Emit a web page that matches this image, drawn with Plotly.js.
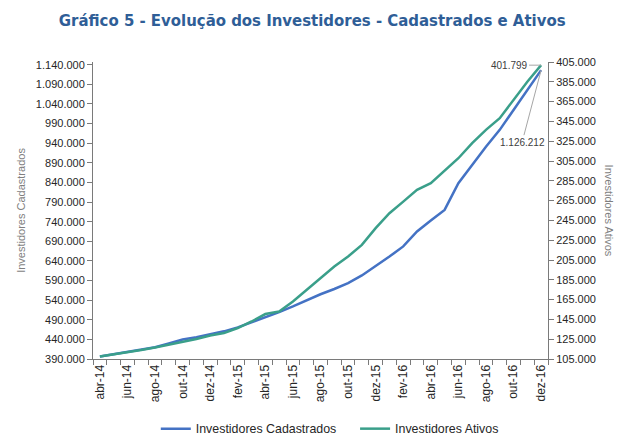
<!DOCTYPE html>
<html>
<head>
<meta charset="utf-8">
<script src="https://cdn.plot.ly/plotly-3.0.1.min.js"></script>
<style>html,body{margin:0;padding:0;background:#fff;}#chart{width:617px;height:437px;}</style>
</head>
<body>
<div id="chart"></div>
<script>
var months = ["abr-14","mai-14","jun-14","jul-14","ago-14","set-14","out-14","nov-14","dez-14",
  "jan-15","fev-15","mar-15","abr-15","mai-15","jun-15","jul-15","ago-15","set-15","out-15","nov-15","dez-15",
  "jan-16","fev-16","mar-16","abr-16","mai-16","jun-16","jul-16","ago-16","set-16","out-16","nov-16","dez-16"];

var cadastrados = [396600,402000,408000,413500,420000,429500,439500,445500,452500,
  460500,470500,483000,496000,509500,524000,540000,555000,568500,583500,603000,626000,
  651000,677000,715000,743000,770000,838000,885000,931000,974000,1025000,1076000,1126212];

var ativos = [107600,109600,111700,114100,116700,119400,122200,125200,128800,
  131200,136300,142900,150400,153000,163100,174900,185800,198400,208500,220300,237200,
  252300,264000,275800,282600,295300,307800,323000,336400,348200,366700,385100,401799];

var seriesNames = ["Investidores Cadastrados", "Investidores Ativos"];
var titleText = "Gráfico 5 - Evolução dos Investidores - Cadastrados e Ativos";

var xIdx = months.map(function(m, i){ return i; });
var labelIdx = xIdx.filter(function(i){ return i % 2 === 0; });
var labelText = labelIdx.map(function(i){ return months[i]; });

function fmt(v){ return String(Math.round(v)).replace(/\B(?=(\d{3})+(?!\d))/g, "."); }

var blue = "#4472C4", green = "#3A9F8A", axisCol = "#7a7a7a", txt = "#262626";
var last = months.length - 1;

var traces = [
  {x: xIdx, y: cadastrados, name: seriesNames[0], type: "scatter", mode: "lines",
   line: {color: blue, width: 2.5}, yaxis: "y", legend: "legend"},
  {x: xIdx, y: ativos, name: seriesNames[1], type: "scatter", mode: "lines",
   line: {color: green, width: 2.5}, yaxis: "y2", legend: "legend2"}
];

var legendBase = {orientation: "h", xanchor: "left", y: -0.236, yanchor: "middle",
                  font: {size: 12.4, color: txt}, bgcolor: "rgba(0,0,0,0)"};

var layout = {
  width: 617, height: 437,
  margin: {l: 93, r: 69, t: 62, b: 78, autoexpand: false},
  paper_bgcolor: "#fff", plot_bgcolor: "#fff",
  separators: ",.",
  font: {family: "Liberation Sans, Arial, sans-serif", size: 11, color: txt},
  title: {text: "<b>" + titleText + "</b>", font: {family: "DejaVu Sans Condensed, DejaVu Sans, sans-serif", size: 16.6, color: "#2F5E97"},
          x: 0.506, xref: "container", xanchor: "center", y: 0.954, yref: "container", yanchor: "middle"},
  showlegend: true,
  legend: Object.assign({}, legendBase, {x: 0.138}),
  legend2: Object.assign({}, legendBase, {x: 0.576}),
  xaxis: {range: [-0.5, last + 0.5], tickmode: "array", tickvals: labelIdx, ticktext: labelText,
          tickangle: -90, ticks: "", showgrid: false, zeroline: false, showline: true, automargin: false,
          linecolor: axisCol, linewidth: 1, tickfont: {size: 12, color: txt},
          minor: {tickmode: "linear", tick0: -0.5, dtick: 1, ticks: "outside", ticklen: 5, tickcolor: axisCol, showgrid: false}},
  yaxis: {range: [390000, 1147000], tickmode: "linear", tick0: 390000, dtick: 50000, tickformat: ",d",
          ticks: "outside", ticklen: 5, tickcolor: axisCol, showgrid: false, zeroline: false, automargin: false,
          showline: true, linecolor: axisCol, linewidth: 1, tickfont: {size: 11, color: txt},
          title: {text: seriesNames[0], font: {size: 11, color: "#7f7f7f"}, standoff: 8}},
  yaxis2: {range: [105000, 405000], tickmode: "linear", tick0: 105000, dtick: 20000, tickformat: ",d",
           overlaying: "y", side: "right", ticks: "outside", ticklen: 5, tickcolor: axisCol, showgrid: false,
           zeroline: false, showline: true, automargin: false, linecolor: axisCol, linewidth: 1, tickfont: {size: 11, color: txt}},
  annotations: [
    {x: last, y: ativos[last], xref: "x", yref: "y2", text: fmt(ativos[last]),
     showarrow: true, arrowhead: 0, arrowwidth: 1, arrowcolor: "#a6a6a6", ax: -32, ay: 0,
     font: {size: 10, color: "#404040"}, standoff: 0},
    {x: last, y: cadastrados[last], xref: "x", yref: "y", text: fmt(cadastrados[last]),
     showarrow: true, arrowhead: 0, arrowwidth: 1, arrowcolor: "#a6a6a6", ax: -19, ay: 72,
     font: {size: 10, color: "#404040"}, standoff: 0},
    {x: 1.136, xref: "paper", y: 0.5, yref: "paper", text: seriesNames[1], textangle: 90,
     showarrow: false, xanchor: "center", yanchor: "middle", font: {size: 11, color: "#7f7f7f"}}
  ]
};

Plotly.newPlot("chart", traces, layout, {displayModeBar: false, staticPlot: true});
</script>
</body>
</html>
